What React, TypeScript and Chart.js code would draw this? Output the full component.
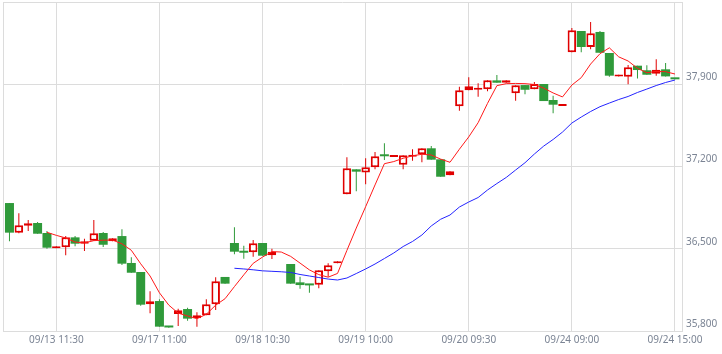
import React, { useEffect, useRef } from 'react';
import { Chart, registerables } from 'chart.js';

Chart.register(...registerables);

// ---- data ----
const opens: (number | null)[] = [
  36889, 36637, 36696, 36719, 36634, 36505, 36512, 36597, 36543, 36568,
  36634, 36563, 36608, 36379, 36302, 36027, 36055, 35840, 35945, 35987,
  35908, 35934, 36027, 36260, 36549, 36481, 36470, 36549, 36444, null,
  36370, 36214, 36200, 36194, 36308, 36377, 36963, 37176, 37150, 37193,
  37298, 37281, 37215, 37283, 37304, 37355, 37261, 37125, 37712, 37848,
  37853, 37857, 37933, 37913, 37823, 37893, 37857, 37902, 37766, 37715,
  38172, 38353, 38217, 38345, 38166, 37965, 37964, 38058, 38019, 37990,
  38027, 37953,
];
const highs: (number | null)[] = [
  36889, 36802, 36745, 36728, 36651, 36522, 36608, 36608, 36585, 36745,
  36642, 36589, 36665, 36427, 36302, 36138, 36070, 35840, 35990, 35998,
  35959, 36070, 36257, 36260, 36682, 36526, 36574, 36549, 36500, null,
  36370, 36262, 36200, 36317, 36376, 36393, 37278, 37176, 37270, 37323,
  37397, 37297, 37295, 37346, 37355, 37374, 37261, 37159, 37879, 37959,
  37908, 37933, 37979, 37933, 37891, 37893, 37919, 37902, 37802, 37731,
  38379, 38353, 38430, 38353, 38166, 37981, 38064, 38058, 38061, 38112,
  38081, 37953,
];
const lows: (number | null)[] = [
  36563, 36632, 36651, 36628, 36500, 36505, 36444, 36521, 36481, 36568,
  36515, 36563, 36362, 36296, 36015, 35951, 35837, 35828, 35843, 35888,
  35837, 35934, 35979, 36203, 36453, 36415, 36432, 36441, 36413, null,
  36203, 36160, 36126, 36163, 36262, 36377, 36963, 36989, 37048, 37176,
  37255, 37281, 37176, 37249, 37236, 37258, 37113, 37125, 37675, 37848,
  37794, 37840, 37913, 37913, 37760, 37814, 37857, 37757, 37653, 37715,
  38172, 38172, 38197, 38168, 37964, 37965, 37899, 37950, 37981, 37973,
  37967, 37942,
];
const closes: (number | null)[] = [
  36637, 36700, 36717, 36628, 36509, 36520, 36597, 36543, 36563, 36631,
  36534, 36589, 36373, 36296, 36024, 36053, 35837, 35830, 35976, 35905,
  35934, 36027, 36223, 36203, 36475, 36466, 36546, 36441, 36475, null,
  36203, 36191, 36188, 36317, 36359, 36393, 37185, 37156, 37193, 37287,
  37287, 37297, 37295, 37295, 37355, 37258, 37113, 37159, 37848, 37882,
  37865, 37933, 37913, 37933, 37891, 37853, 37902, 37757, 37726, 37731,
  38359, 38217, 38333, 38168, 37973, 37981, 38044, 38021, 37981, 38024,
  37967, 37942,
];
const maShort: (number | null)[] = [
  null, null, null, null, 36640, 36614, 36592, 36557, 36550, 36569,
  36573, 36574, 36542, 36487, 36372, 36268, 36125, 36020, 35952, 35928,
  35905, 35942, 36020, 36075, 36178, 36278, 36376, 36429, 36476, 36472,
  36435, 36378, 36320, 36280, 36258, 36290, 36486, 36676, 36858, 37043,
  37224, 37242, 37270, 37291, 37304, 37298, 37263, 37236, 37347, 37452,
  37573, 37737, 37888, 37905, 37907, 37905, 37898, 37867, 37826, 37792,
  37893, 37956, 38072, 38160, 38210, 38133, 38098, 38036, 37998, 38009,
  38007, 37987,
];
const maLong: (number | null)[] = [
  null, null, null, null, null, null, null, null, null, null,
  null, null, null, null, null, null, null, null, null, null,
  null, null, null, null, 36334, 36328, 36321, 36312, 36308, 36304,
  36298, 36281, 36268, 36255, 36242, 36234, 36251, 36289, 36328, 36370,
  36417, 36464, 36519, 36562, 36617, 36694, 36751, 36787, 36855, 36898,
  36936, 37000, 37055, 37107, 37170, 37232, 37306, 37374, 37430, 37493,
  37570, 37621, 37668, 37709, 37740, 37770, 37796, 37830, 37859, 37889,
  37915, 37936,
];
const xTickIndex = [5, 16, 27, 38, 49, 60, 71];
const xTickLabels = ['09/13 11:30', '09/17 11:00', '09/18 10:30', '09/19 10:00', '09/20 09:30', '09/24 09:00', '09/24 15:00'];
const yTickValues = [35800, 36500, 37200, 37900, 38600];

const X_MIN = -0.69;
const X_MAX = 71.75;
const Y_MIN = 35800;
const Y_MAX = 38600;

const RED = '#e00000';
const GREEN = '#2f9a3a';
const RED_LINE = '#ff1a1a';
const BLUE_LINE = '#2424ff';
const GRID = '#dcdcdc';
const LABEL = '#7b8494';
const FONT = { family: '"Noto Sans", sans-serif', size: 10 };

export default function App() {
  const ref = useRef<HTMLCanvasElement | null>(null);

  useEffect(() => {
    if (!ref.current) return;
    const upBody: any[] = [];
    const downBody: any[] = [];
    const upWick: any[] = [];
    const downWick: any[] = [];
    for (let i = 0; i < closes.length; i++) {
      const o = opens[i], c = closes[i], h = highs[i], l = lows[i];
      if (o == null || c == null || h == null || l == null) continue;
      const wick = { x: i, y: [l, h] };
      if (c >= o) {
        upBody.push({ x: i, y: [o, c] });
        upWick.push(wick);
      } else {
        downBody.push({ x: i, y: [c, o] });
        downWick.push(wick);
      }
    }

    const chart = new Chart(ref.current, {
      type: 'bar',
      data: {
        datasets: [
          {
            type: 'line',
            data: maShort.map((v, i) => ({ x: i, y: v })),
            borderColor: RED_LINE,
            borderWidth: 1,
            pointRadius: 0,
            tension: 0,
            order: 0,
          } as any,
          {
            type: 'line',
            data: maLong.map((v, i) => ({ x: i, y: v })),
            borderColor: BLUE_LINE,
            borderWidth: 1,
            pointRadius: 0,
            tension: 0,
            order: 0,
          } as any,
          {
            data: upBody,
            backgroundColor: '#ffffff',
            borderColor: RED,
            borderWidth: 2,
            borderSkipped: false,
            barThickness: 8.5,
            minBarLength: 2,
            inflateAmount: 0,
            order: 1,
          } as any,
          {
            data: downBody,
            backgroundColor: GREEN,
            borderWidth: 0,
            barThickness: 9,
            minBarLength: 2,
            inflateAmount: 0,
            order: 1,
          } as any,
          {
            data: upWick,
            backgroundColor: RED,
            borderWidth: 0,
            barThickness: 1,
            inflateAmount: 0,
            order: 2,
          } as any,
          {
            data: downWick,
            backgroundColor: GREEN,
            borderWidth: 0,
            barThickness: 1,
            inflateAmount: 0,
            order: 2,
          } as any,
        ],
      },
      options: {
        animation: false,
        responsive: false,
        maintainAspectRatio: false,
        events: [],
        layout: { padding: { left: 3, top: 2, right: 0, bottom: 0 } },
        datasets: { bar: { grouped: false } } as any,
        plugins: { legend: { display: false }, tooltip: { enabled: false } },
        scales: {
          x: {
            type: 'linear',
            min: X_MIN,
            max: X_MAX,
            offset: false,
            afterBuildTicks: (s: any) => {
              s.ticks = [X_MIN, ...xTickIndex, X_MAX].map((v) => ({ value: v }));
            },
            afterFit: (s: any) => {
              s.height = 23;
              s.paddingLeft = 0;
              s.paddingRight = 0;
            },
            grid: { color: GRID, lineWidth: 1, drawTicks: false, offset: false },
            border: { color: GRID, width: 1 },
            ticks: {
              autoSkip: false,
              maxRotation: 0,
              padding: 3,
              color: LABEL,
              font: FONT,
              callback: (v: any) => {
                const k = xTickIndex.indexOf(Number(v));
                return k >= 0 ? xTickLabels[k] : '';
              },
            },
          } as any,
          y: {
            type: 'linear',
            position: 'right',
            min: Y_MIN,
            max: Y_MAX,
            afterBuildTicks: (s: any) => {
              s.ticks = yTickValues.map((v) => ({ value: v }));
            },
            afterFit: (s: any) => {
              s.width = 40;
              s.paddingTop = 0;
              s.paddingBottom = 0;
            },
            grid: { color: GRID, lineWidth: 1, drawTicks: false },
            border: { color: GRID, width: 1 },
            ticks: {
              padding: 4,
              labelOffset: -7,
              color: LABEL,
              font: FONT,
              callback: (v: any) => (Number(v) === Y_MAX ? '' : Number(v).toLocaleString('en-US')),
            },
          } as any,
        },
      },
    });
    return () => chart.destroy();
  }, []);

  return (
    <div style={{ position: 'fixed', left: 0, top: 0, width: 722, height: 354, background: '#ffffff' }}>
      <canvas ref={ref} width={722} height={354} style={{ display: 'block', width: 722, height: 354 }} />
    </div>
  );
}
